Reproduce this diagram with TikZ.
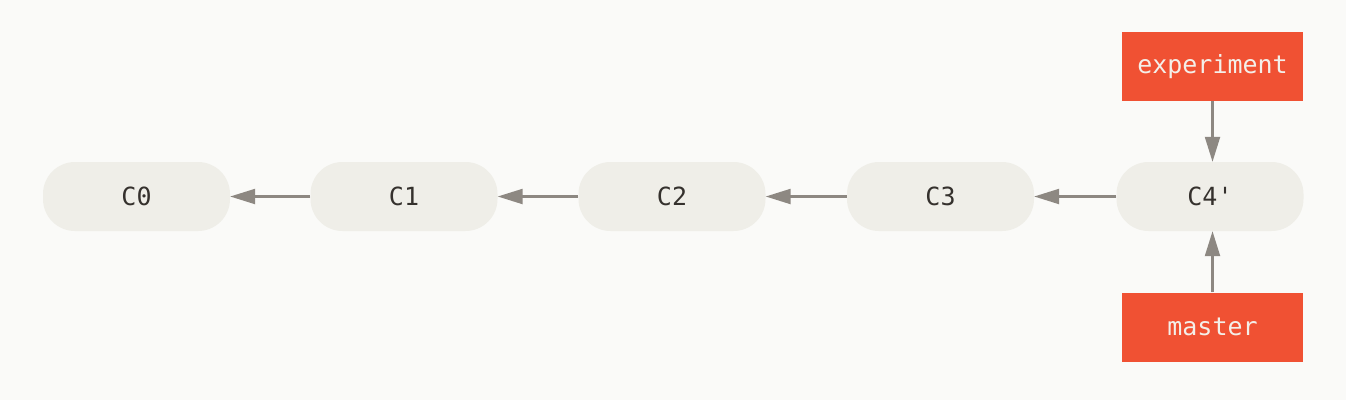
\documentclass[tikz,border=0pt]{standalone}
\usepackage{fontspec}
\setmonofont{DejaVu Sans Mono}
\usepackage{tikz}
\usetikzlibrary{arrows.meta}
\definecolor{bgcol}{HTML}{FAFAF8}
\definecolor{commitcol}{HTML}{EFEEE8}
\definecolor{branchcol}{HTML}{F05133}
\definecolor{linecol}{HTML}{8D8882}
\definecolor{textcol}{HTML}{35312D}
\definecolor{labelcol}{HTML}{F4EFE9}
\tikzset{>={Triangle[length=25pt,width=15pt]}}
\tikzset{commit/.style={fill=commitcol,rounded corners=32pt,minimum width=187pt,
    minimum height=69pt,inner sep=0pt,text=textcol,font=\ttfamily\fontsize{25}{25}\selectfont},
  branch/.style={fill=branchcol,minimum width=181pt,minimum height=69pt,inner sep=0pt,
    text=labelcol,font=\ttfamily\fontsize{25}{25}\selectfont},
  pointer/.style={->,draw=linecol,fill=linecol,line width=2.2pt}}

\begin{document}
\begin{tikzpicture}[x=1pt,y=-1pt]
       \fill[bgcol] (0,0) rectangle (1346,400);
       \node[commit] (c0) at (136.5,196.5) {C0};
       \node[commit] (c1) at (404,196.5) {C1};
       \node[commit] (c2) at (672,196.5) {C2};
       \node[commit] (c3) at (940.5,196.5) {C3};
       \node[commit] (c4) at (1210,196.5) {C4'};
       \node[branch] (experiment) at (1212.5,66.5) {experiment};
       \node[branch] (master) at (1212.5,327) {master};
       \draw[pointer] (c1) -- (c0);
       \draw[pointer] (c2) -- (c1);
       \draw[pointer] (c3) -- (c2);
       \draw[pointer] (c4) -- (c3);
       \draw[pointer] (experiment) -- (experiment|-c4.north);
       \draw[pointer] (master) -- (master|-c4.south);
\end{tikzpicture}
\end{document}
